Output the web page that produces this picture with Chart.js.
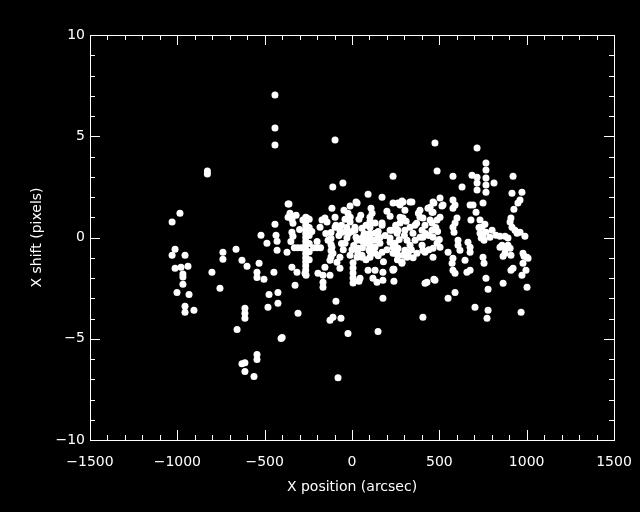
<!DOCTYPE html>
<html>
<head>
<meta charset="utf-8">
<script src="https://cdn.jsdelivr.net/npm/chart.js@4"></script>
<style>
  html, body { margin: 0; padding: 0; background: #000; }
  canvas { display: block; background: #000; }
</style>
</head>
<body>
<canvas id="myChart" width="640" height="512"></canvas>
<script>
// x position (arcsec) of each star, in groups left to right
const xPosition = [
    -1030, -985, -1013, -1030, -956, -1013, -979, -939, -968, -968, -968, -1002, -933, -956, -956, -905, -828, -828, -802, -756,
    -739, -739, -664, -630, -601, -613, -613, -613, -658, -544, -544, -630, -613, -613, -561, -544, -544, -504, -532, -521,
    -487, -441, -435, -429, -429, -447, -475, -424, -481, -424, -406, -372, -366, -366, -441, -441, -441, -400, -309, -326,
    -355, -344, -338, -344, -338, -350, -281, -258, -265, -265, -265, -265, -265, -265, -265, -265, -265, -265, -265, -265,
    -265, -265, -245, -245, -245, -245, -245, -245, -330, -310, -290, -220, -200, -180, -344, -315, -269, -263, -361, -97,
    -110, -52, -115, -11, -46, -23, -172, -155, -183, -143, -120, -120, -120, -120, -120, -97, -97, -92, -69, -57,
    -29, -40, -11, -137, -115, -109, -126, -86, -69, -155, -166, -195, -126, -166, -166, -69, -11, -92, -126, -109,
    -63, -23, -80, 6, 6, 6, 6, 6, 23, 17, 29, 34, 29, 17, 23, 57, 46, 40, 34, 57,
    92, 172, 29, 109, 115, 103, 103, 103, 103, 103, 103, 103, 103, 103, 132, 132, 132, 132, 132, 86,
    98, 57, 172, 172, 218, 160, 172, 218, 235, 246, 263, 218, 229, 218, 92, 132, 177, 235, 120, 177,
    143, 240, 177, 149, 235, 235, 263, 286, 343, 303, 275, 292, 332, 275, 389, 389, 292, 275, 263, 303,
    332, 349, 406, 418, 401, 258, 246, 235, 315, 332, 321, 292, 389, 401, 406, 361, 286, 418, 235, 429,
    258, 263, 303, 315, 406, 372, 286, 240, 418, 406, 475, 487, 435, 469, 458, 447, 464, 504, 521, 447,
    464, 504, 487, 458, 464, 487, 504, 458, 464, 464, 469, 475, 716, 578, 630, 687, 716, 716, 716, 767,
    767, 767, 767, 767, 515, 578, 590, 578, 676, 693, 710, 750, 601, 590, 578, 681, 733, 744, 733, 750,
    761, 767, 756, 740, 727, 584, 607, 607, 618, 664, 676, 676, 550, 578, 573, 578, 590, 647, 658, 676,
    750, 756, 767, 590, 550, 704, 773, 813, 922, 916, 973, 962, 950, 927, 824, 847, 876, 893, 933, 945,
    990, 916, 905, 910, 802, 790, 859, 876, 893, 905, 910, 876, 865, 847, 979, 1002, 1008, 979, 996, 973,
    922, 910, 865, 1002, 779, 779, 968, 962, 985,
    -40, -30, -20, -50, -60, -10, 0, 10, 40, 50, 60, 70, 80, 150, 190, 200, 250, 270, 300, 340,
    360, 380, 420, 440, 480, 500, -60, -30, 0, 60, 80, 150, 180, 200, 260, 310, 350, 370, 440, 490,
    60, 80, 150, 160, -75, -150, -200, -230, -300, -320
];

// x shift (pixels), same order as xPosition
const xShift = [
    0.77, 1.2, -0.58, -0.88, -0.88, -1.52, -1.47, -1.42, -1.8, -1.95, -2.31, -2.71, -2.81, -3.4, -3.69, -3.59, 3.13, 3.28, -1.72, -2.51,
    -0.73, -1.07, -0.58, -1.12, -1.42, -3.49, -3.74, -3.99, -4.54, -5.78, -6.03, -6.23, -6.18, -6.62, -6.87, -1.72, -1.97, -2.06, -1.27, 0.11,
    -0.28, 0.66, 0.11, -0.18, -0.63, -1.72, -2.81, -2.71, -3.44, -3.25, -4.99, -0.73, 1.65, 1.0, 7.04, 5.41, 4.57, -4.94, -3.74, -2.36,
    1.2, 0.9, 0.7, 0.26, 0.06, -0.2, 0.86, 0.96, 1.0, 0.8, 0.6, 0.4, 0.2, 0.0, -0.2, -0.4, -0.6, -0.8, -1.0, -1.2,
    -1.4, -1.6, 0.9, 0.5, 0.1, -0.3, -0.7, -1.1, -0.5, -0.5, -0.5, -0.5, -0.5, -0.5, -1.47, -1.72, -1.77, -1.87, 1.65, 4.82,
    2.5, 2.69, 1.45, 1.55, 1.35, 1.2, 0.86, 0.96, 0.51, 0.76, 0.25, -0.05, -0.35, -0.65, -0.95, 1.0, 0.51, 0.6, 0.35, 0.26,
    -0.03, -0.28, 0.76, -0.13, -0.48, -0.78, -1.12, -1.22, -1.52, -1.47, -1.87, -1.77, -1.87, -2.21, -2.46, -0.97, -0.88, -3.15, -4.09, -3.94,
    -3.99, -4.74, -6.92, -1.25, -1.5, -1.75, -2.0, -2.25, 1.75, 0.51, -0.13, -0.53, -0.97, 0.36, 0.01, -0.97, -2.01, -2.16, -0.78, -0.88,
    2.14, 1.99, 1.7, 1.45, 1.2, 1.0, 0.8, 0.51, 0.21, 0.0, -0.3, -0.48, -0.7, -0.97, 0.71, 0.21, -0.13, -0.48, -0.78, -0.28,
    -0.63, 0.46, 0.71, 0.61, 0.36, -0.28, -0.73, -0.23, -0.48, -0.78, -0.53, 1.05, 0.36, -0.03, -1.62, -1.62, -1.72, -1.62, -2.01, -2.11,
    -2.21, -2.16, -3.0, -4.64, 3.03, 1.7, 1.7, 1.8, 1.75, 1.35, 1.0, 1.75, 1.75, 1.6, 1.35, 1.0, 0.96, 0.71, 0.36, 0.36,
    0.51, 0.21, 0.96, 0.61, 0.36, 0.21, -0.28, -0.78, -0.13, -0.38, -0.78, -0.88, 0.01, -0.38, -0.63, -0.13, -1.22, -0.73, -1.57, -2.21,
    -0.63, -0.88, -0.63, -0.97, 0.01, -0.78, -1.27, -1.57, -2.26, -3.94, 4.67, 3.28, 1.45, 1.7, 1.25, 0.86, 1.75, 1.95, 1.6, 1.5,
    1.25, 1.0, 0.86, 0.36, 0.01, -0.28, -0.48, 0.71, -0.53, -0.97, -2.06, -2.11, 4.42, 3.03, 2.49, 3.08, 2.98, 2.69, 2.34, 3.68,
    3.33, 2.94, 2.59, 2.24, 1.55, 1.85, 1.6, 1.45, 1.6, 1.6, 1.25, 1.7, 0.96, 0.71, 0.51, 0.86, 0.86, 0.51, 0.21, 0.0,
    0.66, 0.26, -0.13, -0.03, 0.5, 0.26, -0.13, -0.38, -0.63, -0.23, -0.48, -0.73, -0.73, -1.02, -1.27, -1.62, -1.77, -1.12, -1.72, -1.62,
    -0.97, -1.27, -2.01, -2.71, -3.0, -3.44, -3.99, 2.69, 3.03, 2.19, 2.24, 1.85, 1.7, 1.4, 0.11, 0.06, 0.06, -0.03, 0.36, 0.21,
    0.06, 0.51, 0.76, 0.96, 0.36, 0.01, -0.38, -0.53, -0.38, -0.53, -0.88, -0.78, -0.93, -0.48, -0.78, -0.97, -1.02, -1.27, -1.62, -1.87,
    -1.52, -1.62, -2.26, -2.46, -2.56, -3.59, -3.69, 0.26, -0.93,
    0.9, 0.5, 0.2, -0.6, 0.6, 1.0, 0.3, -0.4, 0.9, 1.1, -0.2, 0.2, 0.6, 0.3, 0.1, 1.3, 0.6, -0.1, 0.1, -0.6,
    0.6, 1.2, 0.2, 0.1, 0.5, -0.1, -0.3, 0.3, -0.6, -0.5, -1.1, -0.9, -1.2, -0.6, -1.1, 0.8, -1.0, 0.7, -0.6, 0.3,
    0.0, 0.0, 0.0, 0.0, 0.1, 0.2, -0.2, 0.3, 0.4, 1.1
];

const xTicks = [-1500, -1000, -500, 0, 500, 1000, 1500];
const yTicks = [-10, -5, 0, 5, 10];
const xMinorStep = 100;
const yMinorStep = 1;

const fontFace = "'DejaVu Sans', sans-serif";
const minus = v => String(v).replace("-", "\u2212");

// IDL style box with inward ticks on all four sides
const framePlugin = {
    id: "frame",
    afterDraw(chart) {
        const { ctx, chartArea: a, scales: { x, y } } = chart;
        ctx.save();
        ctx.strokeStyle = "#fff";
        ctx.lineWidth = 1;
        ctx.strokeRect(Math.round(a.left) + 0.5, Math.round(a.top) + 0.5,
            Math.round(a.right - a.left), Math.round(a.bottom - a.top));
        ctx.beginPath();
        for (let v = x.min; v <= x.max; v += xMinorStep) {
            const px = Math.round(x.getPixelForValue(v)) + 0.5;
            const len = xTicks.includes(v) ? 10 : 5;
            ctx.moveTo(px, a.bottom); ctx.lineTo(px, a.bottom - len);
            ctx.moveTo(px, a.top); ctx.lineTo(px, a.top + len);
        }
        for (let v = y.min; v <= y.max; v += yMinorStep) {
            const py = Math.round(y.getPixelForValue(v)) + 0.5;
            const len = yTicks.includes(v) ? 10 : 5;
            ctx.moveTo(a.left, py); ctx.lineTo(a.left + len, py);
            ctx.moveTo(a.right, py); ctx.lineTo(a.right - len, py);
        }
        ctx.stroke();
        ctx.restore();
    }
};

const points = xPosition.map((v, i) => ({ x: v, y: xShift[i] }));

const ctx = document.getElementById("myChart").getContext("2d");
const myChart = new Chart(ctx, {
    type: "scatter",
    data: {
        datasets: [{
            data: points,
            backgroundColor: "#fff",
            borderWidth: 0,
            pointRadius: 3.5,
            pointHoverRadius: 3.5
        }]
    },
    options: {
        responsive: false,
        animation: false,
        events: [],
        layout: { padding: { top: 35, right: 26, left: 0, bottom: 0 } },
        scales: {
            x: {
                type: "linear",
                min: -1500,
                max: 1500,
                afterFit: s => { s.height = 72; s.paddingLeft = 0; s.paddingRight = 0; },
                afterBuildTicks: s => { s.ticks = xTicks.map(v => ({ value: v })); },
                grid: { display: false, drawTicks: false },
                border: { display: false },
                ticks: {
                    color: "#fff",
                    padding: 14,
                    maxRotation: 0,
                    font: { family: fontFace, size: 14 },
                    callback: v => minus(v)
                },
                title: {
                    display: true,
                    text: "X position (arcsec)",
                    color: "#fff",
                    font: { family: fontFace, size: 14 },
                    padding: { top: 0, bottom: 16 }
                }
            },
            y: {
                type: "linear",
                min: -10,
                max: 10,
                afterFit: s => { s.width = 90; s.paddingTop = 0; s.paddingBottom = 0; },
                afterBuildTicks: s => { s.ticks = yTicks.map(v => ({ value: v })); },
                grid: { display: false, drawTicks: false },
                border: { display: false },
                ticks: {
                    color: "#fff",
                    padding: 5,
                    font: { family: fontFace, size: 14 },
                    callback: v => minus(v)
                },
                title: {
                    display: true,
                    text: "X shift (pixels)",
                    color: "#fff",
                    font: { family: fontFace, size: 14 },
                    padding: { top: 29, bottom: 0 }
                }
            }
        },
        plugins: {
            legend: { display: false },
            tooltip: { enabled: false }
        }
    },
    plugins: [framePlugin]
});
</script>
</body>
</html>
